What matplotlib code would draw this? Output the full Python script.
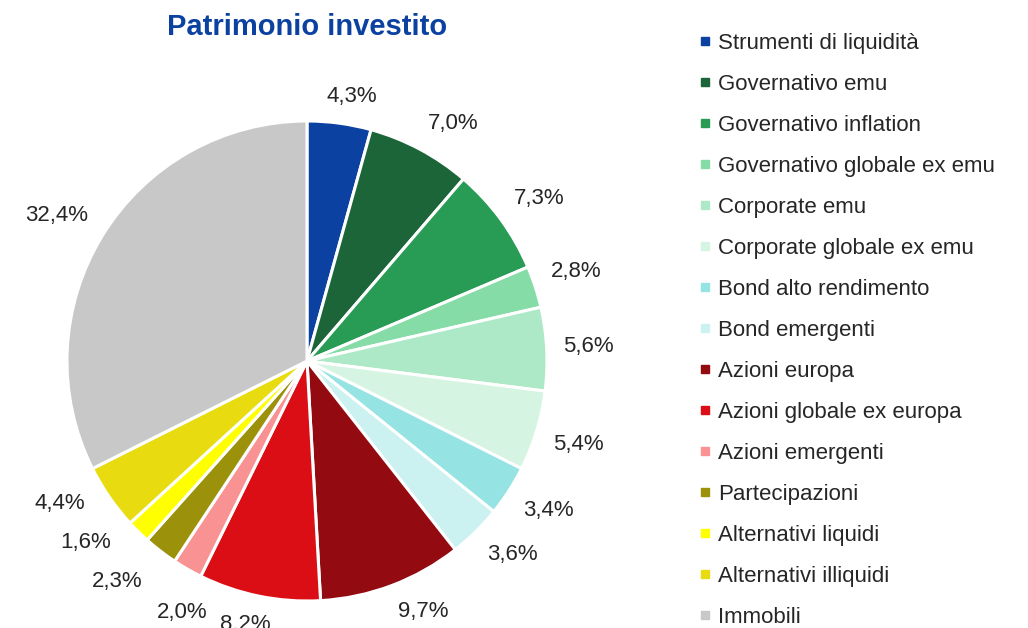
import numpy as np
import matplotlib.pyplot as plt
from matplotlib.lines import Line2D

# chart data
categories = ['Strumenti di liquidità', 'Governativo emu', 'Governativo inflation',
              'Governativo globale ex emu', 'Corporate emu', 'Corporate globale ex emu',
              'Bond alto rendimento', 'Bond emergenti', 'Azioni europa',
              'Azioni globale ex europa', 'Azioni emergenti', 'Partecipazioni',
              'Alternativi liquidi', 'Alternativi illiquidi', 'Immobili']
shares = [4.3, 7.0, 7.3, 2.8, 5.6, 5.4, 3.4, 3.6, 9.7, 8.2, 2.0, 2.3, 1.6, 4.4, 32.4]
colors = ['#0B41A0', '#1B6538', '#289B55', '#85DCA6', '#AEE9C7', '#D6F4E2',
          '#96E3E3', '#CBF1F1', '#930A10', '#DC0E15', '#F99293', '#9B910A',
          '#FFFF00', '#E8DC10', '#C8C8C8']

plt.rcParams['font.family'] = ['Liberation Sans', 'DejaVu Sans']

W, H = 1028, 628
fig = plt.figure(figsize=(W / 100, H / 100), dpi=100)

cx, cy, r = 307, 361, 240
ax = fig.add_axes([(cx - r) / W, (H - cy - r) / H, 2 * r / W, 2 * r / H])

wedges, _ = ax.pie(shares, colors=colors, startangle=90, counterclock=False,
                   wedgeprops={'edgecolor': 'white', 'linewidth': 2.2})
ax.set_xlim(-1, 1)
ax.set_ylim(-1, 1)
ax.axis('off')

# percentage labels outside the wedges, box corner towards the pie
renderer = fig.canvas.get_renderer()
texts, pos, sizes = [], [], []
for w, v in zip(wedges, shares):
    lab = ('%.1f' % v).replace('.', ',') + '%'
    t = ax.text(0, 0, lab, ha='center', va='center', fontsize=16, color='#262626',
                clip_on=False)
    bb = t.get_window_extent(renderer)
    bw, bh = bb.width / r, bb.height / r
    ang = np.deg2rad((w.theta1 + w.theta2) / 2)
    c, s = np.cos(ang), np.sin(ang)
    x = 1.07 * c + bw / 2 * np.clip(3 * c, -1, 1)
    y = 1.07 * s + bh / 2 * np.clip(3 * s, -1, 1)
    texts.append(t)
    pos.append([x, y])
    sizes.append((bw, bh))
pos = np.array(pos)

# push overlapping labels apart
for _ in range(400):
    moved = False
    for i in range(len(pos)):
        for j in range(i + 1, len(pos)):
            dx, dy = pos[j] - pos[i]
            ox = (sizes[i][0] + sizes[j][0]) / 2 + 0.05 - abs(dx)
            oy = (sizes[i][1] + sizes[j][1]) / 2 + 0.07 - abs(dy)
            if ox > 0 and oy > 0:
                d = np.array([dx, dy]) / (np.hypot(dx, dy) + 1e-9)
                pos[i] -= d * 0.01
                pos[j] += d * 0.01
                moved = True
    if not moved:
        break
for t, p in zip(texts, pos):
    t.set_position(p)

fig.text(cx / W, 1 - 27 / H, 'Patrimonio investito', ha='center', va='center',
         fontsize=21, fontweight='bold', color='#0B41A0')

handles = [Line2D([], [], marker='s', linestyle='none', markersize=6,
                  markerfacecolor=c, markeredgecolor=c) for c in colors]
fig.legend(handles, categories, loc='upper left', bbox_to_anchor=(698 / W, 1 - 33 / H),
           frameon=False, fontsize=16, labelspacing=0.90, handlelength=0.6,
           handletextpad=0.30, borderpad=0, borderaxespad=0, labelcolor='#262626')

fig.savefig('out.png', dpi=100)
